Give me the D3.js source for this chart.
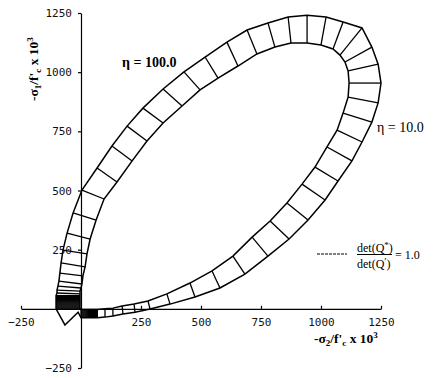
<!DOCTYPE html>
<html><head><meta charset="utf-8">
<script src="https://cdn.jsdelivr.net/npm/d3@7/dist/d3.min.js"></script>
<style>body{margin:0;background:#fff}svg{display:block}</style>
</head><body>
<svg id="c" width="440" height="378"></svg>
<script>
// axis tick values
const xTicks = [-250, 250, 500, 750, 1000, 1250];
const yTicks = [-250, 250, 500, 750, 1000, 1250];

// dense block on the left leg (outer / inner edge x, shared y)
const leftBlockY = [0, 4, 8, 12, 16, 20, 24, 28, 32, 36, 40, 44, 48, 52, 56];
const leftBlockOuterX = -104;
const leftBlockInnerX = -4;

// connecting lines det(Q*)/det(Q') = 1.0 : outer (eta = 100) and inner (eta = 10) ends
const outerX = [-100, -100, -96, -92, -88, -83, -75, -58, -33, 4, 67, 129, 192, 258, 342, 429, 517, 608, 692, 779, 863, 942, 1021, 1092, 1171, 1212, 1238, 1250, 1238, 1212, 1171, 1129, 1071, 1017, 946, 867, 779, 683, 579, 475, 371, 288, 225, 175, 133, 100];
const outerY = [67, 79, 96, 117, 151, 194, 248, 320, 405, 502, 595, 688, 772, 848, 929, 1001, 1064, 1127, 1178, 1208, 1233, 1241, 1233, 1212, 1187, 1106, 1034, 954, 870, 789, 705, 625, 540, 460, 375, 295, 223, 147, 88, 50, 20, -1, -14, -22, -30, -35];
const innerX = [-4, -4, 0, 4, 8, 17, 25, 38, 63, 96, 150, 213, 275, 342, 421, 496, 571, 654, 733, 808, 875, 942, 1000, 1050, 1079, 1100, 1113, 1117, 1113, 1092, 1067, 1025, 975, 921, 858, 788, 713, 633, 546, 454, 358, 279, 221, 171, 133, 100];
const innerY = [63, 75, 88, 105, 139, 177, 232, 295, 375, 464, 536, 625, 709, 785, 857, 925, 975, 1026, 1077, 1106, 1123, 1123, 1115, 1098, 1072, 1043, 1005, 954, 895, 827, 755, 684, 599, 527, 447, 371, 303, 223, 160, 109, 63, 33, 20, 12, 3, 0];

// dense block on the lower leg (shared x, outer / inner edge y)
const bottomBlockX = [68, 64, 60, 56, 52, 48, 44, 40, 36, 32, 28, 24, 20, 16, 12, 8, 4, 0];
const bottomBlockOuterY = -38;
const bottomBlockInnerY = -3;

// kink of the outer curve below the axis
const tipX = [-12, -67];
const tipY = [-14, -68];

const svg = d3.select("#c");
const x = d3.scaleLinear().domain([-250, 1250]).range([21, 381]);
const y = d3.scaleLinear().domain([-250, 1250]).range([368, 13]);

// build tick pairs
const pairs = [];
leftBlockY.forEach(v => pairs.push({o: [leftBlockOuterX, v], i: [leftBlockInnerX, v]}));
outerX.forEach((v, k) => pairs.push({o: [v, outerY[k]], i: [innerX[k], innerY[k]]}));
bottomBlockX.forEach(v => pairs.push({o: [v, bottomBlockOuterY], i: [v, bottomBlockInnerY]}));

const outerPts = pairs.map(p => p.o).concat(tipX.map((v, k) => [v, tipY[k]]));
const innerPts = pairs.map(p => p.i);

// axes
const fmt = d3.format("d");
const gx = svg.append("g").attr("transform", `translate(0,${y(0)})`)
  .call(d3.axisBottom(x).tickValues(xTicks).tickFormat(fmt).tickSizeInner(-3).tickSizeOuter(0).tickPadding(9));
const gy = svg.append("g").attr("transform", `translate(${x(0)},0)`)
  .call(d3.axisLeft(y).tickValues(yTicks).tickFormat(fmt).tickSizeInner(3).tickSizeOuter(0).tickPadding(6));
[gx, gy].forEach(g => {
  g.selectAll("path.domain").attr("stroke", "#000").attr("stroke-width", 1.2);
  g.selectAll(".tick line").attr("stroke", "#000").attr("stroke-width", 1.2);
  g.selectAll("text").attr("font-family", "DejaVu Sans Mono").attr("font-size", 11).attr("fill", "#111");
});

const line = d3.line().x(d => x(d[0])).y(d => y(d[1])).curve(d3.curveLinearClosed);
svg.append("path").attr("d", line(outerPts)).attr("fill", "none").attr("stroke", "#000").attr("stroke-width", 1.5).attr("stroke-linejoin", "miter");
svg.append("path").attr("d", line(innerPts)).attr("fill", "none").attr("stroke", "#000").attr("stroke-width", 1.5);
svg.append("g").selectAll("line").data(pairs).join("line")
  .attr("x1", d => x(d.o[0])).attr("y1", d => y(d.o[1]))
  .attr("x2", d => x(d.i[0])).attr("y2", d => y(d.i[1]))
  .attr("stroke", "#000").attr("stroke-width", 1.3);

// labels
const serif = "Liberation Serif, Times New Roman, serif";
svg.append("text").attr("x", 122).attr("y", 67).attr("font-family", serif).attr("font-size", 14).attr("font-weight", "bold").text("η = 100.0");
svg.append("text").attr("x", 377).attr("y", 132).attr("font-family", serif).attr("font-size", 14).text("η = 10.0");

// x axis title
const xt = svg.append("text").attr("x", 314).attr("y", 343).attr("font-family", serif).attr("font-size", 13.5).attr("font-weight", "bold");
xt.append("tspan").text("-σ");
xt.append("tspan").attr("font-size", 9).attr("dy", 3).text("2");
xt.append("tspan").attr("dy", -3).text("/f'");
xt.append("tspan").attr("font-size", 9).attr("dy", 3).text("c");
xt.append("tspan").attr("dy", -3).text(" x 10");
xt.append("tspan").attr("font-size", 9).attr("dy", -5).text("3");

// y axis title
const yt = svg.append("text").attr("transform", "translate(38,101) rotate(-90)").attr("font-family", serif).attr("font-size", 13.5).attr("font-weight", "bold");
yt.append("tspan").text("-σ");
yt.append("tspan").attr("font-size", 9).attr("dy", 3).text("1");
yt.append("tspan").attr("dy", -3).text("/f'");
yt.append("tspan").attr("font-size", 9).attr("dy", 3).text("c");
yt.append("tspan").attr("dy", -3).text(" x 10");
yt.append("tspan").attr("font-size", 9).attr("dy", -5).text("3");

// legend
svg.append("line").attr("x1", 317).attr("x2", 347).attr("y1", 254).attr("y2", 254)
  .attr("stroke", "#000").attr("stroke-width", 1.2).attr("stroke-dasharray", "3,1");
const num = svg.append("text").attr("x", 357).attr("y", 252).attr("font-family", serif).attr("font-size", 12);
num.append("tspan").text("det(Q");
num.append("tspan").attr("font-size", 9).attr("dy", -4).text("*");
num.append("tspan").attr("dy", 4).text(")");
svg.append("line").attr("x1", 357).attr("x2", 392).attr("y1", 254.5).attr("y2", 254.5).attr("stroke", "#000").attr("stroke-width", 1);
const den = svg.append("text").attr("x", 357).attr("y", 268).attr("font-family", serif).attr("font-size", 12);
den.append("tspan").text("det(Q");
den.append("tspan").attr("font-size", 10).attr("dy", -3).text("′");
den.append("tspan").attr("dy", 3).text(")");
svg.append("text").attr("x", 395).attr("y", 259).attr("font-family", serif).attr("font-size", 12).text("= 1.0");
</script>
</body></html>
